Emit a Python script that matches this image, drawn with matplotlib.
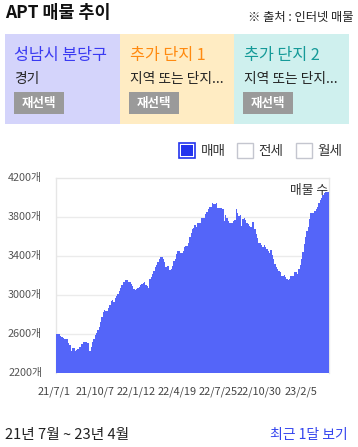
import matplotlib
matplotlib.use("Agg")
import matplotlib.pyplot as plt
from matplotlib.patches import Rectangle
import numpy as np
import pandas as pd

plt.rcParams['font.family'] = ['Noto Sans CJK KR', 'DejaVu Sans']

# ---------------- data ----------------
listing_counts = [
    2605, 2600, 2600, 2581, 2570, 2561, 2555, 2551, 2551, 2507,
    2486, 2430, 2459, 2459, 2431, 2438, 2450, 2469, 2469, 2500,
    2520, 2520, 2515, 2508, 2510, 2428, 2472, 2521, 2551, 2590,
    2612, 2640, 2670, 2720, 2780, 2830, 2852, 2842, 2842, 2872,
    2900, 2940, 2945, 2934, 2965, 2995, 3012, 3040, 3073, 3107,
    3134, 3134, 3158, 3150, 3138, 3138, 3114, 3090, 3060, 3053,
    3060, 3075, 3084, 3100, 3114, 3124, 3134, 3107, 3090, 3077,
    3161, 3187, 3215, 3249, 3283, 3310, 3341, 3365, 3389, 3389,
    3368, 3341, 3290, 3300, 3300, 3256, 3269, 3297, 3348, 3368,
    3416, 3450, 3450, 3426, 3426, 3453, 3488, 3501, 3501, 3535,
    3590, 3637, 3672, 3688, 3719, 3699, 3736, 3736, 3736, 3787,
    3787, 3787, 3828, 3845, 3879, 3903, 3903, 3937, 3930, 3930,
    3937, 3886, 3886, 3886, 3886, 3879, 3757, 3818, 3784, 3760,
    3739, 3739, 3739, 3760, 3767, 3879, 3835, 3811, 3820, 3705,
    3774, 3784, 3767, 3738, 3726, 3705, 3692, 3746, 3746, 3672,
    3624, 3580, 3529, 3529, 3508, 3488, 3511, 3488, 3474, 3446,
    3433, 3460, 3406, 3365, 3314, 3283, 3263, 3249, 3232, 3200,
    3200, 3205, 3180, 3162, 3154, 3165, 3200, 3200, 3200, 3235,
    3235, 3215, 3266, 3307, 3365, 3443, 3521, 3597, 3654, 3699,
    3777, 3838, 3842, 3838, 3855, 3876, 3900, 3940, 3968, 3993,
    4020, 4040, 4050, 4050, 4050,
]
x_tick_labels = ['21/7/1', '21/10/7', '22/1/12', '22/4/19', '22/7/25', '22/10/30', '23/2/5']
y_ticks = [2200, 2600, 3000, 3400, 3800, 4200]
panel_titles = ['성남시 분당구', '추가 단지 1', '추가 단지 2']
panel_subtitles = ['경기', '지역 또는 단지...', '지역 또는 단지...']
legend_labels = ['매매', '전세', '월세']

# ---------------- figure ----------------
W, H = 358, 447
fig = plt.figure(figsize=(W / 100, H / 100), dpi=100)
fig.patch.set_facecolor('white')


def fx(px):
    return px / W


def fy(py):
    return 1 - py / H


# header
fig.text(fx(5), fy(13.5), 'APT 매물 추이', fontsize=12.5, fontweight='bold',
         color='#111111', ha='left', va='center')
fig.text(fx(354), fy(18), '※ 출처 : 인터넷 매물', fontsize=8.8,
         color='#222222', ha='right', va='center')

# panels
panel_x = [5, 120, 234]
panel_w = [115, 114, 115]
panel_bg = ['#d4d4fb', '#ffecc3', '#cff0ee']
title_colors = ['#3a3af2', '#ff8a10', '#159a98']
for i in range(3):
    x0 = panel_x[i]
    fig.patches.append(Rectangle((fx(x0), fy(124)), panel_w[i] / W, 90 / H,
                                 transform=fig.transFigure, facecolor=panel_bg[i],
                                 edgecolor='none', zorder=0))
    tx = x0 + 10
    fig.text(fx(tx - 0.5), fy(55.5), panel_titles[i], fontsize=11.7, color=title_colors[i],
             ha='left', va='center')
    fig.text(fx(tx - 0.5), fy(79.5), panel_subtitles[i], fontsize=9.9, color='#222222',
             ha='left', va='center')
    fig.patches.append(Rectangle((fx(tx - 1), fy(114)), 50 / W, 22 / H,
                                 transform=fig.transFigure, facecolor='#9a9a9a',
                                 edgecolor='none', zorder=1))
    fig.text(fx(tx + 24), fy(103), '재선택', fontsize=9, fontweight='bold',
             color='white', ha='center', va='center', zorder=2)

# legend
leg_x = [179, 237, 296]
for i, lab in enumerate(legend_labels):
    x0 = leg_x[i]
    if i == 0:
        fig.patches.append(Rectangle((fx(x0), fy(158)), 16 / W, 15 / H,
                                     transform=fig.transFigure, facecolor='white',
                                     edgecolor='#2233ee', linewidth=1.2))
        fig.patches.append(Rectangle((fx(x0 + 2), fy(156)), 12 / W, 11 / H,
                                     transform=fig.transFigure, facecolor='#2233ee',
                                     edgecolor='none'))
    else:
        fig.patches.append(Rectangle((fx(x0), fy(158)), 16 / W, 15 / H,
                                     transform=fig.transFigure, facecolor='white',
                                     edgecolor='#c4c6cf', linewidth=1.0))
    fig.text(fx(x0 + 21.5), fy(150.5), lab, fontsize=9.8, color='#333333',
             ha='left', va='center')

# chart axes
left, right, top, bottom = 56, 329, 177.7, 373.3
ax = fig.add_axes([fx(left), fy(bottom), (right - left) / W, (bottom - top) / H])
n = len(listing_counts)
edges = np.arange(n + 1) - 0.5
ax.stairs(listing_counts, edges, fill=True, baseline=0, color='#5465f9', zorder=3)
ax.set_xlim(-0.5, n - 0.5)
ax.set_ylim(y_ticks[0], y_ticks[-1])

for yv in y_ticks[1:-1]:
    ax.axhline(yv, color='#ebebeb', linewidth=1.0, zorder=1)
for side in ['top', 'left', 'right']:
    ax.spines[side].set_color('#e6e6e6')
    ax.spines[side].set_linewidth(1.0)
ax.spines['bottom'].set_visible(False)
ax.set_xticks([])
ax.set_yticks([])

# y labels
ytrans = ax.get_yaxis_transform()
for yv in y_ticks:
    ax.text(-0.051, yv, f'{yv}개', transform=ytrans, fontsize=7.8, color='#555555',
            ha='right', va='center', clip_on=False)

# x labels positioned by date
start = pd.Timestamp('2021-07-01')
days_per_bar = 3.15
xtrans = ax.get_xaxis_transform()
for lab in x_tick_labels:
    d = pd.to_datetime('20' + lab, format='%Y/%m/%d')
    pos = -2 + (d - start).days / days_per_bar
    ax.text(pos, -0.092, lab, transform=xtrans, fontsize=7.9, color='#444444',
            ha='center', va='center', clip_on=False)

ax.text(0.996, 0.937, '매물 수', transform=ax.transAxes, fontsize=9.2,
        color='#333333', ha='right', va='center', zorder=5)

# footer
fig.text(fx(5), fy(434.5), '21년 7월 ~ 23년 4월', fontsize=10.6, color='#222222',
         ha='left', va='center')
fig.text(fx(348), fy(434.5), '최근 1달 보기', fontsize=10, color='#3344ee',
         ha='right', va='center')

fig.savefig('out.png', dpi=100, facecolor='white')
